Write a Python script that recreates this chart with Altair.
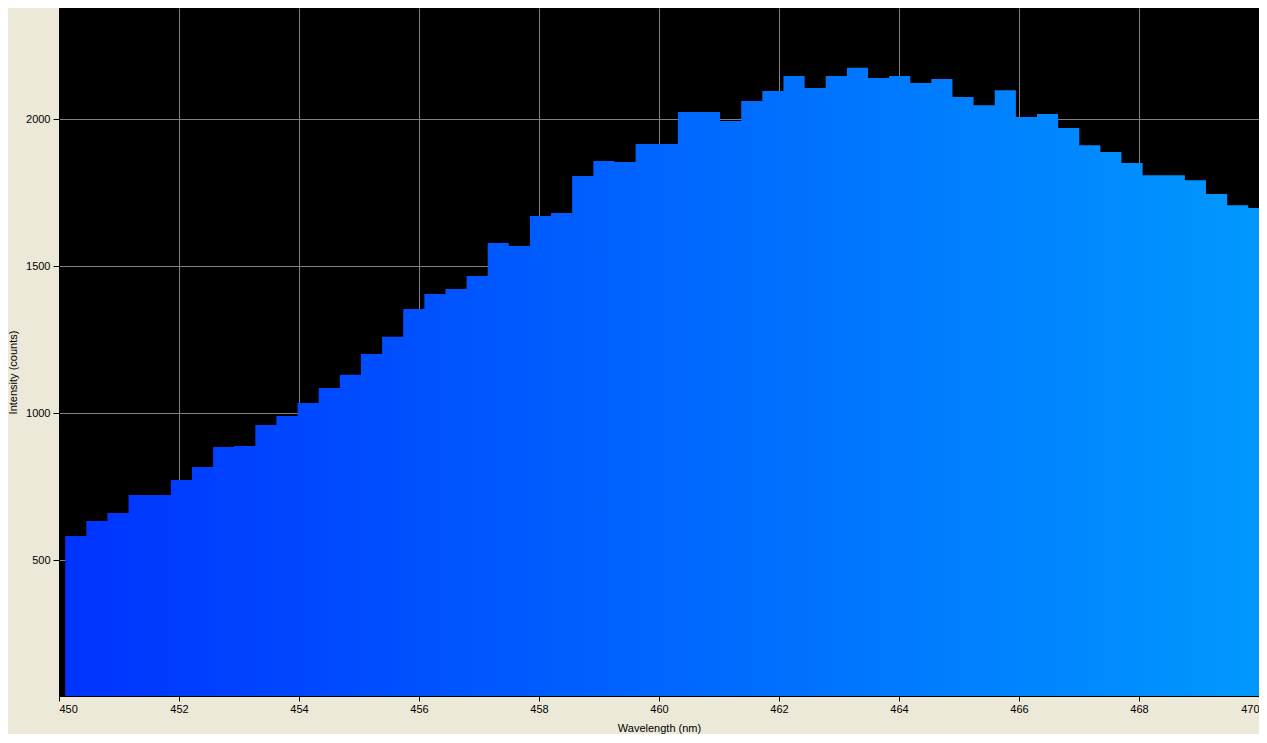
import altair as alt
import pandas as pd

# bar centre wavelengths (nm)
wavelength = [
    450.279, 450.631, 450.983, 451.335, 451.687, 452.040, 452.392, 452.744,
    453.096, 453.448, 453.800, 454.152, 454.504, 454.856, 455.208, 455.561,
    455.913, 456.265, 456.617, 456.969, 457.321, 457.673, 458.025, 458.377,
    458.729, 459.082, 459.434, 459.786, 460.138, 460.490, 460.842, 461.194,
    461.546, 461.898, 462.250, 462.603, 462.955, 463.307, 463.659, 464.011,
    464.363, 464.715, 465.067, 465.419, 465.771, 466.124, 466.476, 466.828,
    467.180, 467.532, 467.884, 468.236, 468.588, 468.940, 469.292, 469.645,
    469.997,
]
# intensity (counts)
counts = [
    583, 634, 661, 722, 722, 773, 817, 885,
    889, 960, 991, 1035, 1086, 1131, 1202, 1260,
    1355, 1406, 1423, 1467, 1579, 1569, 1671, 1681,
    1807, 1858, 1855, 1916, 1916, 2025, 2025, 1994,
    2062, 2096, 2147, 2106, 2147, 2175, 2140, 2147,
    2123, 2137, 2076, 2048, 2099, 2008, 2018, 1970,
    1912, 1889, 1851, 1810, 1810, 1793, 1746, 1708,
    1698,
]
x_ticks = [450, 452, 454, 456, 458, 460, 462, 464, 466, 468, 470]
y_ticks = [500, 1000, 1500, 2000]

half = 0.176
edges = [w - half for w in wavelength] + [wavelength[-1] + half]
vals = counts + [counts[-1]]
df = pd.DataFrame({"wl": edges, "counts": vals})

FONT = "Liberation Sans"

grad = alt.Gradient(
    gradient="linear",
    stops=[alt.GradientStop(color="#0033ff", offset=0),
           alt.GradientStop(color="#0099ff", offset=1)],
    x1=0, x2=1, y1=0, y2=0,
)

chart = alt.Chart(df).mark_area(
    interpolate="step-after", clip=True, color=grad
).encode(
    x=alt.X(
        "wl:Q",
        scale=alt.Scale(domain=[450, 470], nice=False, zero=False),
        axis=alt.Axis(
            values=x_ticks, title="Wavelength (nm)", format="d",
            tickSize=5, labelPadding=2, labelFlush=True,
            titleY=35, titleBaseline="alphabetic",
        ),
    ),
    y=alt.Y(
        "counts:Q",
        scale=alt.Scale(domain=[38.5, 2378.5], nice=False, zero=False),
        axis=alt.Axis(
            values=y_ticks, title="Intensity (counts)", format="d",
            tickSize=6, labelPadding=3, labelFlush=False,
            titleX=-46, titleY=364, titleAngle=270,
            titleAlign="center", titleBaseline="middle",
        ),
    ),
).properties(
    width=1200,
    height=688,
    autosize=alt.AutoSizeParams(type="none"),
    padding={"left": 51, "top": 0, "right": 0, "bottom": 38},
    background="#ECE9D8",
).configure_view(
    fill="black", strokeWidth=0,
).configure_axis(
    labelFont=FONT, labelFontSize=11, labelColor="black",
    titleFont=FONT, titleFontSize=11, titleColor="black", titleFontWeight="normal",
    tickColor="black", tickWidth=1, domainColor="black", domainWidth=1,
    gridColor="#808080", gridWidth=1, gridOpacity=1,
)

chart.save("out.html", embed_options={"renderer": "svg", "actions": False})
